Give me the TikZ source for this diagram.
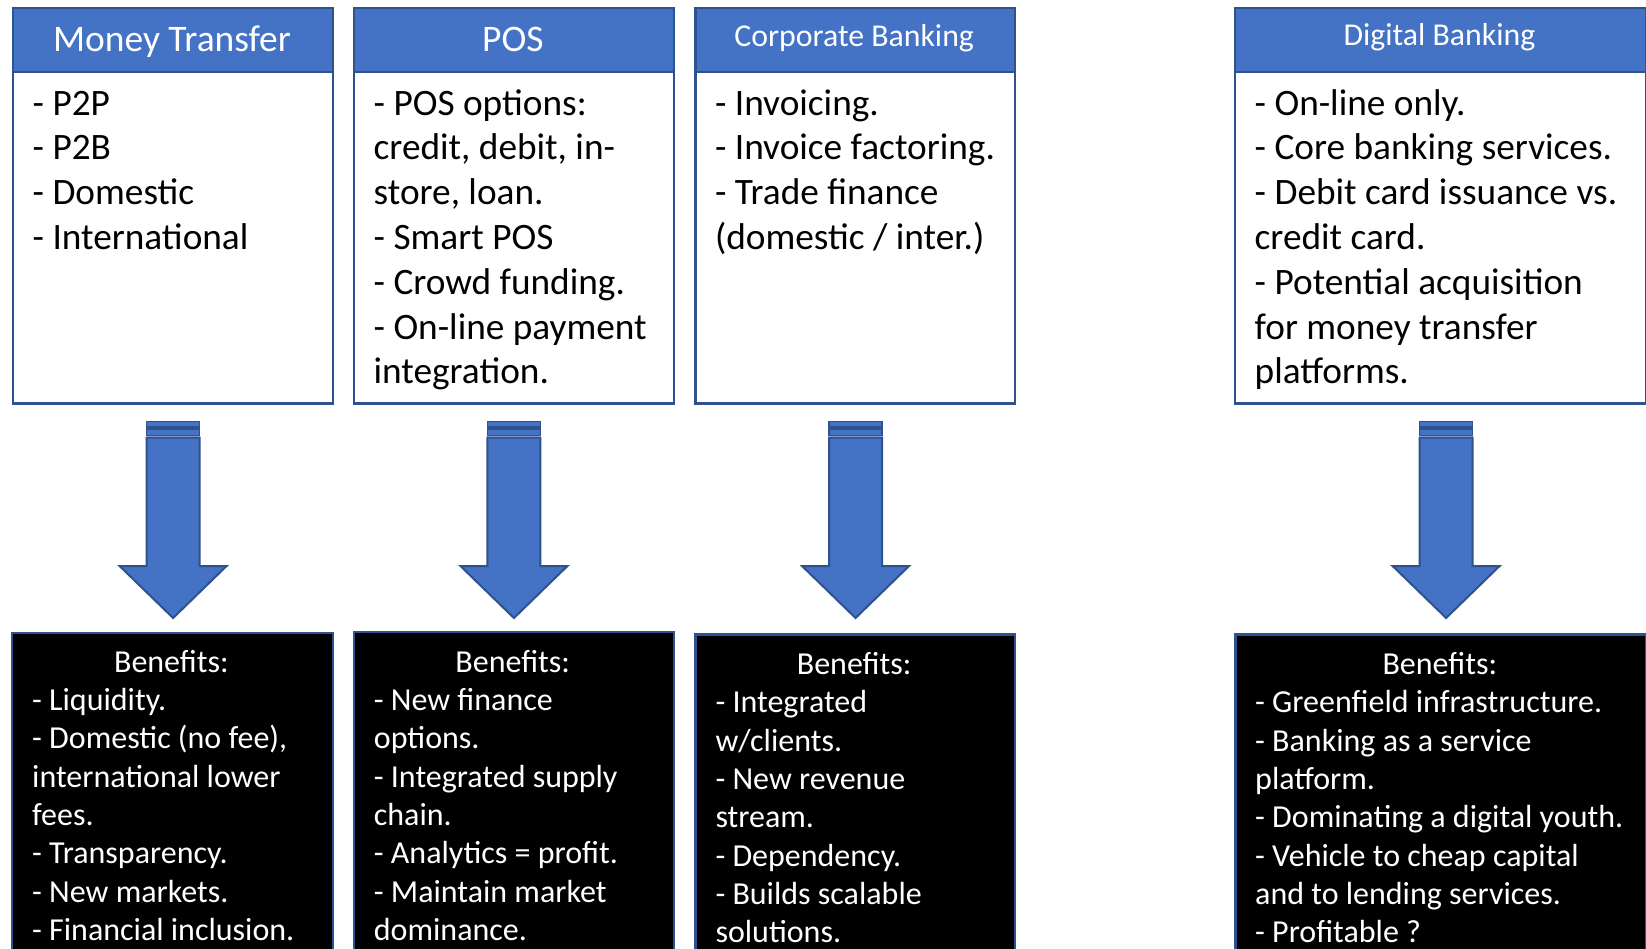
\documentclass[tikz,border=0pt]{standalone}
\usepackage{fontspec}
\setmainfont{Carlito}
\usetikzlibrary{calc}
\definecolor{hdrblue}{HTML}{4472C4}
\definecolor{edgeblue}{HTML}{2F528F}
\definecolor{gapblue}{HTML}{B8C4DC}
\tikzset{
  downarrow/.pic={
    % two thin bars on top of the shaft, then the shaft and the head
    \fill[gapblue] (-26.5,0) rectangle (26.5,16);
    \draw[edgeblue, fill=hdrblue, line width=1.5pt] (-26.5,0) rectangle (26.5,5.5);
    \draw[edgeblue, fill=hdrblue, line width=1.5pt] (-26.5,7.5) rectangle (26.5,14);
    \draw[edgeblue, fill=hdrblue, line width=2pt, line join=miter]
      (-26.5,16) -- (26.5,16) -- (26.5,144.5) -- (53.5,144.5) -- (0,196.5)
      -- (-53.5,144.5) -- (-26.5,144.5) -- cycle;
  }
}
\begin{document}
\begin{tikzpicture}[x=1pt,y=-1pt,
  panel/.style={draw=edgeblue, line width=2.2pt, fill=white, inner sep=0pt,
    anchor=north west, minimum height=395.3},
  header/.style={panel, fill=hdrblue, minimum height=63.7},
  benefit/.style={panel, fill=black, minimum height=400},
  bigtitle/.style={text=white, inner sep=0pt, anchor=base,
    font=\fontsize{37.5}{45}\selectfont},
  smalltitle/.style={bigtitle, font=\fontsize{31.8}{38}\selectfont},
  itemtext/.style={inner sep=0pt, anchor=base west,
    font=\fontsize{37.3}{44.8}\selectfont},
  benefittext/.style={inner sep=0pt, anchor=base west, text=white,
    font=\fontsize{32}{38.3}\selectfont},
  benefithead/.style={inner sep=0pt, anchor=base, text=white,
    font=\fontsize{32}{38.3}\selectfont},
]
\useasboundingbox (0,0) rectangle (1646,948);
\clip (0,0) rectangle (1646,948);
\fill[white] (0,0) rectangle (1646,948);

% ---- upper panels: body, then the blue title strip ----
\node[panel, minimum width=320]   (t1) at (12,7) {};
\node[panel, minimum width=319.7] (t2) at (353,7) {};
\node[panel, minimum width=319.7] (t3) at (694.3,7) {};
\node[panel, minimum width=411]   (t4) at (1234,7) {};
\node[header, minimum width=320]   (h1) at (12,7) {};
\node[header, minimum width=319.7] (h2) at (353,7) {};
\node[header, minimum width=319.7] (h3) at (694.3,7) {};
\node[header, minimum width=411]   (h4) at (1234,7) {};

\node[bigtitle]   (h1t) at (172,51.7)    {Money Transfer};
\node[bigtitle]   (h2t) at (512.85,51.7) {POS};
\node[smalltitle] (h3t) at (854.15,46.7) {Corporate Banking};
\node[smalltitle] (h4t) at (1439.5,45.7) {Digital Banking};

\node[itemtext] (t1x) at (32.5,115) {\parbox[t]{295pt}{\raggedright
  - P2P\\- P2B\\- Domestic\\- International}};
\node[itemtext] (t2x) at (373.5,115) {\parbox[t]{295pt}{\raggedright
  - POS options:\\credit, debit, in-\\store, loan.\\- Smart POS\\- Crowd funding.\\- On-line payment\\integration.}};
\node[itemtext] (t3x) at (714.8,115) {\parbox[t]{295pt}{\raggedright
  - Invoicing.\\- Invoice factoring.\\- Trade finance\\(domestic / inter.)}};
\node[itemtext] (t4x) at (1254.5,115) {\parbox[t]{385pt}{\raggedright
  - On-line only.\\- Core banking services.\\- Debit card issuance vs.\\credit card.\\- Potential acquisition\\for money transfer\\platforms.}};

% ---- block arrows ----
\pic at ($(t1.south)+(0,17)$) {downarrow};
\pic at ($(t2.south)+(0,17)$) {downarrow};
\pic at ($(t3.south)+(0.3,17)$) {downarrow};
\pic at ($(t4.south)+(5.5,17)$) {downarrow};

% ---- lower panels ----
\node[benefit, minimum width=320.7] (b1) at (11,631.7) {};
\node[benefit, minimum width=320]   (b2) at (352.7,630.7) {};
\node[benefit, minimum width=319.7] (b3) at (694.3,633.3) {};
\node[benefit, minimum width=411]   (b4) at (1234.3,633.3) {};

\node[benefithead] (b1h) at (171.35,672.3) {Benefits:};
\node[benefithead] (b2h) at (512.7,672.3)  {Benefits:};
\node[benefithead] (b3h) at (854.15,674.5) {Benefits:};
\node[benefithead] (b4h) at (1439.8,674.5) {Benefits:};

\node[benefittext] (b1x) at (32,710.6) {\parbox[t]{300pt}{\raggedright
  - Liquidity.\\- Domestic (no fee),\\international lower\\fees.\\- Transparency.\\- New markets.\\- Financial inclusion.}};
\node[benefittext] (b2x) at (373.7,710.6) {\parbox[t]{300pt}{\raggedright
  - New finance\\options.\\- Integrated supply\\chain.\\- Analytics = profit.\\- Maintain market\\dominance.}};
\node[benefittext] (b3x) at (715.3,712.8) {\parbox[t]{300pt}{\raggedright
  - Integrated\\w/clients.\\- New revenue\\stream.\\- Dependency.\\- Builds scalable\\solutions.}};
\node[benefittext] (b4x) at (1255,712.8) {\parbox[t]{385pt}{\raggedright
  - Greenfield infrastructure.\\- Banking as a service\\platform.\\- Dominating a digital youth.\\- Vehicle to cheap capital\\and to lending services.\\- Profitable ?}};
\end{tikzpicture}
\end{document}
